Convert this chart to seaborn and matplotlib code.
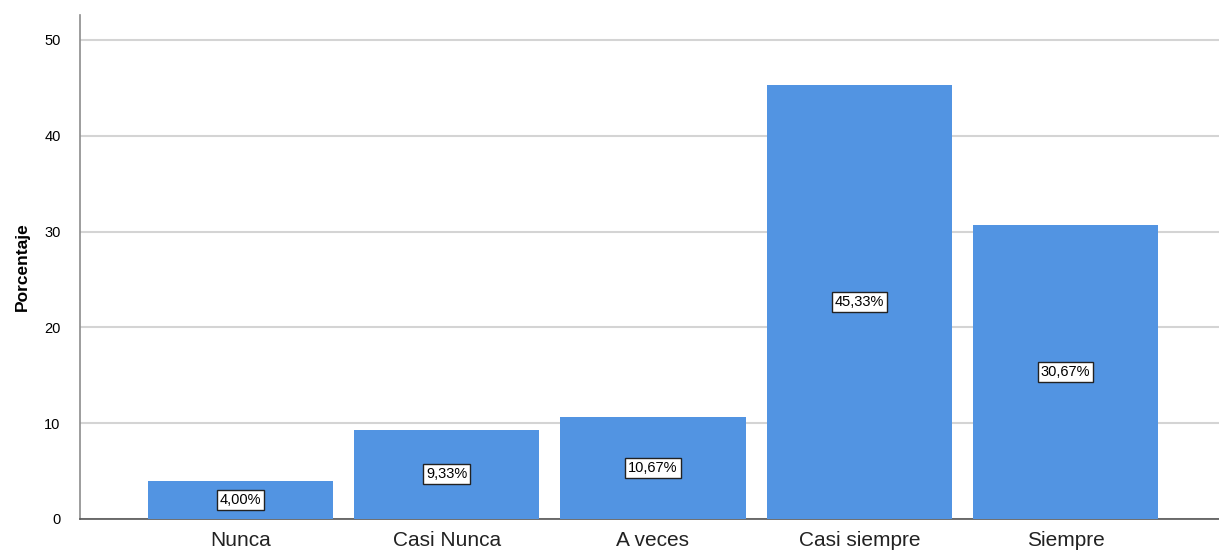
import matplotlib
matplotlib.use("Agg")
import matplotlib.pyplot as plt
import seaborn as sns
import pandas as pd

categories = ["Nunca", "Casi Nunca", "A veces", "Casi siempre", "Siempre"]
percentages = [4.00, 9.33, 10.67, 45.33, 30.67]
y_ticks = [0, 10, 20, 30, 40, 50]

sns.set_theme(style="white")
plt.rcParams["font.family"] = ["Liberation Sans", "DejaVu Sans"]

df = pd.DataFrame({"Respuesta": categories, "Porcentaje": percentages})

fig = plt.figure(figsize=(12.19, 5.5), dpi=100)
ax = fig.add_axes([0.0656, 0.0564, 0.9344, 0.9163])

sns.barplot(data=df, x="Respuesta", y="Porcentaje", color="#5294e2",
            saturation=1, width=0.897, ax=ax, zorder=3, linewidth=0)

for i, v in enumerate(percentages):
    label = f"{v:.2f}".replace(".", ",") + "%"
    ax.text(i, v / 2, label, ha="center", va="center", fontsize=10.5,
            color="black", zorder=5,
            bbox=dict(boxstyle="square,pad=0.2", facecolor="white",
                      edgecolor="#222222", linewidth=1))

ax.set_xlim(-0.778, 4.744)
ax.set_ylim(0, 52.6)
ax.set_yticks(y_ticks)
ax.set_yticklabels([str(t) for t in y_ticks], fontsize=10.5, color="black")
ax.tick_params(axis="x", labelsize=15, length=0, pad=9, labelcolor="#222222")
ax.tick_params(axis="y", length=0, pad=14)
ax.set_xlabel("")
ax.set_ylabel("Porcentaje", fontsize=12.5, fontweight="bold", labelpad=10,
              color="black")

ax.yaxis.grid(True, color="#d4d4d4", linewidth=1.5, zorder=0)
ax.set_axisbelow(True)
for s in ["top", "right"]:
    ax.spines[s].set_visible(False)
ax.spines["left"].set_color("#8c8c8c")
ax.spines["left"].set_linewidth(1.2)
ax.spines["bottom"].set_color("#555555")
ax.spines["bottom"].set_linewidth(1.2)

fig.savefig("out.png", dpi=100)
